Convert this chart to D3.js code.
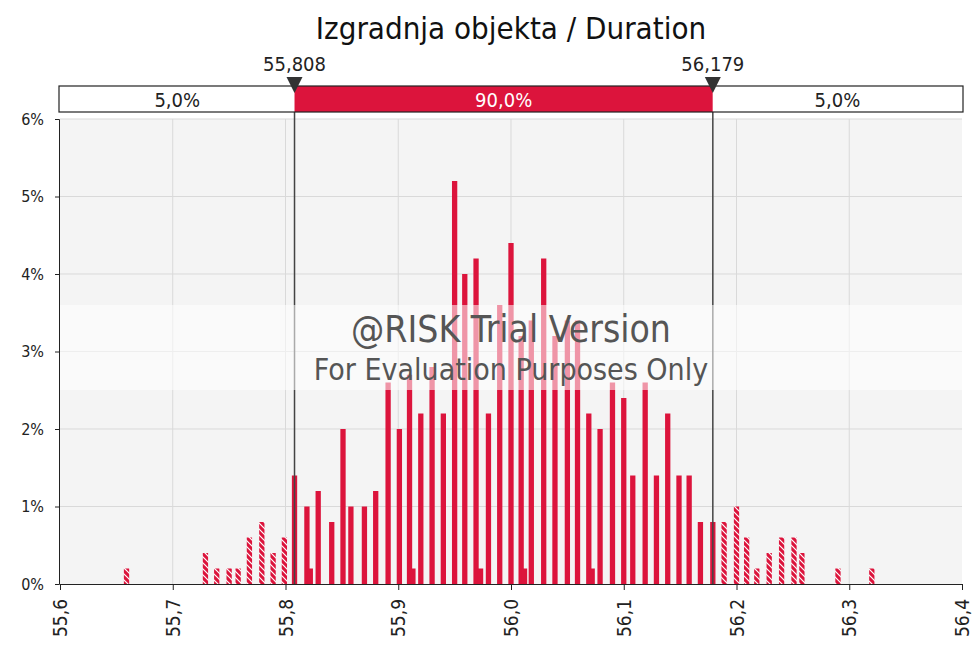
<!DOCTYPE html>
<html>
<head>
<meta charset="utf-8">
<script src="https://cdn.jsdelivr.net/npm/d3@7"></script>
<style>
  body { margin: 0; background: #fff; }
  text { font-family: Tahoma, 'DejaVu Sans Condensed', 'DejaVu Sans', sans-serif; }
</style>
</head>
<body>
<div id="chart"></div>
<script>
// histogram bins: value (bin centre) and share of iterations in %
const binValues = [
  55.659, 55.729, 55.739, 55.750, 55.758, 55.768, 55.779, 55.789, 55.799,
  55.808, 55.819, 55.822, 55.829, 55.841, 55.851, 55.858, 55.870, 55.880,
  55.891, 55.901, 55.910, 55.913, 55.920, 55.930, 55.940, 55.950, 55.959,
  55.969, 55.973, 55.980, 55.990, 56.000, 56.009, 56.012, 56.018, 56.029,
  56.039, 56.050, 56.059, 56.069, 56.072, 56.079, 56.090, 56.100, 56.108,
  56.119, 56.129, 56.139, 56.149, 56.158, 56.168, 56.179, 56.189, 56.200,
  56.209, 56.218, 56.229, 56.240, 56.251, 56.258, 56.290, 56.320
]
const binPercents = [
  0.2, 0.4, 0.2, 0.2, 0.2, 0.6, 0.8, 0.4, 0.6,
  1.4, 1.0, 0.2, 1.2, 0.8, 2.0, 1.0, 1.0, 1.2,
  2.6, 2.0, 2.7, 0.2, 2.2, 2.8, 2.2, 5.2, 4.0,
  4.2, 0.2, 2.2, 3.6, 4.4, 3.2, 0.2, 3.4, 4.2,
  3.2, 3.4, 3.4, 2.2, 0.2, 2.0, 2.6, 2.4, 1.4,
  2.6, 1.4, 2.2, 1.4, 1.4, 0.8, 0.8, 0.8, 1.0,
  0.6, 0.2, 0.4, 0.6, 0.6, 0.4, 0.2, 0.2
]

const xTicks = [55.6, 55.7, 55.8, 55.9, 56.0, 56.1, 56.2, 56.3, 56.4]
const yTicks = [0, 1, 2, 3, 4, 5, 6]

// 90% interval delimiters and band shares
const lowerMark = 55.808
const upperMark = 56.179
const bandLabels = ['5,0%', '90,0%', '5,0%']

const title = 'Izgradnja objekta / Duration'
const watermark = ['@RISK Trial Version', 'For Evaluation Purposes Only']

const red = '#dc143c'
const comma = (s) => s.replace('.', ',')

const svgDimension = { width: 972, height: 653 }
const plot = { left: 60, right: 962, top: 119, bottom: 584 }

const svg = d3.select('#chart')
  .append('svg')
  .attr('width', svgDimension.width)
  .attr('height', svgDimension.height)

const xScale = d3.scaleLinear().domain([55.6, 56.4]).range([plot.left, plot.right])
const yScale = d3.scaleLinear().domain([0, 6]).range([plot.bottom, plot.top])

// hatch for the bars outside the 90% interval
const defs = svg.append('defs')
const hatch = defs.append('pattern')
  .attr('id', 'hatch')
  .attr('patternUnits', 'userSpaceOnUse')
  .attr('width', 6)
  .attr('height', 6)
hatch.append('rect').attr('width', 6).attr('height', 6).attr('fill', red)
hatch.append('path')
  .attr('d', 'M0,0 L6,6 M-1,5 L1,7 M5,-1 L7,1')
  .attr('stroke', '#fff')
  .attr('stroke-width', 1.2)

// plot background + grid
svg.append('rect')
  .attr('x', plot.left).attr('y', plot.top)
  .attr('width', plot.right - plot.left)
  .attr('height', plot.bottom - plot.top)
  .attr('fill', '#f4f4f4')

svg.append('g')
  .selectAll('line')
  .data(xTicks.slice(1, -1))
  .join('line')
  .attr('x1', (d) => xScale(d)).attr('x2', (d) => xScale(d))
  .attr('y1', plot.top).attr('y2', plot.bottom)
  .attr('stroke', '#d9d9d9')

svg.append('g')
  .selectAll('line')
  .data(yTicks.slice(1))
  .join('line')
  .attr('x1', plot.left).attr('x2', plot.right)
  .attr('y1', (d) => yScale(d)).attr('y2', (d) => yScale(d))
  .attr('stroke', '#d9d9d9')

// bars
const barWidth = 0.0047
const bins = binValues.map((v, i) => ({ value: v, pct: binPercents[i] }))

svg.append('g')
  .selectAll('rect')
  .data(bins)
  .join('rect')
  .attr('x', (d) => xScale(d.value - barWidth / 2))
  .attr('width', xScale(55.6 + barWidth) - xScale(55.6))
  .attr('y', (d) => yScale(d.pct))
  .attr('height', (d) => yScale(0) - yScale(d.pct))
  .attr('fill', (d) =>
    d.value < lowerMark - 0.001 || d.value > upperMark + 0.001 ? 'url(#hatch)' : red
  )

// delimiter lines
svg.append('g')
  .selectAll('line')
  .data([lowerMark, upperMark])
  .join('line')
  .attr('x1', (d) => xScale(d)).attr('x2', (d) => xScale(d))
  .attr('y1', 112).attr('y2', plot.bottom)
  .attr('stroke', '#444')
  .attr('stroke-width', 1.5)

// watermark band
svg.append('rect')
  .attr('x', plot.left).attr('y', 305)
  .attr('width', plot.right - plot.left)
  .attr('height', 85)
  .attr('fill', '#fff')
  .attr('opacity', 0.55)

svg.append('text')
  .attr('x', (plot.left + plot.right) / 2)
  .attr('y', 342)
  .attr('text-anchor', 'middle')
  .attr('font-size', 37)
  .attr('fill', '#555')
  .text(watermark[0])

svg.append('text')
  .attr('x', (plot.left + plot.right) / 2)
  .attr('y', 380)
  .attr('text-anchor', 'middle')
  .attr('font-size', 30)
  .attr('fill', '#555')
  .text(watermark[1])

// axes
const xAxis = d3.axisBottom(xScale)
  .tickValues(xTicks)
  .tickSize(6)
  .tickFormat((d) => comma(d3.format('.1f')(d)))

const xAxisGroup = svg.append('g')
  .attr('transform', `translate(0, ${plot.bottom})`)
  .call(xAxis)
xAxisGroup.select('.domain').attr('stroke', '#222')
xAxisGroup.selectAll('.tick line').attr('stroke', '#222')
xAxisGroup.selectAll('text')
  .attr('font-size', 19)
  .attr('fill', '#222')
  .attr('transform', 'rotate(-90)')
  .attr('text-anchor', 'end')
  .attr('x', -15)
  .attr('y', 0)
  .attr('dy', '0.35em')

const yAxis = d3.axisLeft(yScale)
  .tickValues(yTicks)
  .tickSize(4)
  .tickFormat((d) => d + '%')

const yAxisGroup = svg.append('g')
  .attr('transform', `translate(${plot.left - 1}, 0)`)
  .call(yAxis)
yAxisGroup.select('.domain').attr('stroke', '#222')
yAxisGroup.selectAll('.tick line').attr('stroke', '#222')
yAxisGroup.selectAll('text')
  .attr('font-size', 16)
  .attr('fill', '#222')
  .attr('x', -15)

// interval band on top
const bandTop = 86
const bandHeight = 26
const bandEdges = [55.6, lowerMark, upperMark, 56.4]
const bandParts = bandLabels.map((label, i) => ({
  label: label,
  x0: bandEdges[i],
  x1: bandEdges[i + 1],
  fill: i === 1 ? red : '#fff',
  color: i === 1 ? '#fff' : '#222',
}))

svg.append('g')
  .selectAll('rect')
  .data(bandParts)
  .join('rect')
  .attr('x', (d) => xScale(d.x0))
  .attr('y', bandTop)
  .attr('width', (d) => xScale(d.x1) - xScale(d.x0))
  .attr('height', bandHeight)
  .attr('fill', (d) => d.fill)

svg.append('rect')
  .attr('x', plot.left - 1).attr('y', bandTop)
  .attr('width', plot.right - plot.left + 2)
  .attr('height', bandHeight)
  .attr('fill', 'none')
  .attr('stroke', '#222')
  .attr('stroke-width', 1.2)

svg.append('g')
  .selectAll('text')
  .data(bandParts)
  .join('text')
  .attr('x', (d) => (xScale(d.x0) + xScale(d.x1)) / 2)
  .attr('y', bandTop + 21)
  .attr('text-anchor', 'middle')
  .attr('font-size', 20)
  .attr('fill', (d) => d.color)
  .text((d) => d.label)

// markers
const markers = svg.append('g')
  .selectAll('g')
  .data([lowerMark, upperMark])
  .join('g')
  .attr('transform', (d) => `translate(${xScale(d)}, 0)`)

markers.append('path')
  .attr('d', 'M-8,77 L8,77 L0,93 Z')
  .attr('fill', '#333')

markers.append('text')
  .attr('y', 71)
  .attr('text-anchor', 'middle')
  .attr('font-size', 20)
  .attr('fill', '#222')
  .text((d) => comma(d3.format('.3f')(d)))

// title
svg.append('text')
  .attr('x', 511)
  .attr('y', 39)
  .attr('text-anchor', 'middle')
  .attr('font-size', 31)
  .attr('fill', '#111')
  .text(title)
</script>
</body>
</html>
